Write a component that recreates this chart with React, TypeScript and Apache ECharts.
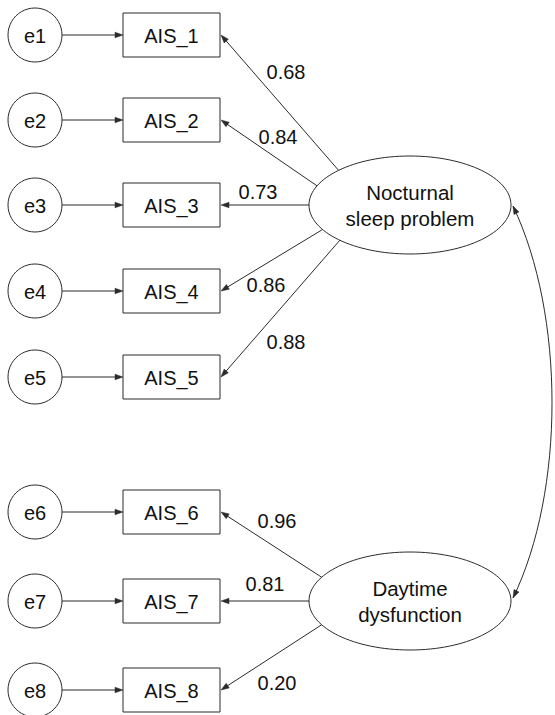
import React, { useEffect, useRef } from "react";
import * as echarts from "echarts";

// ---- data ----
const errorLabels = ["e1", "e2", "e3", "e4", "e5", "e6", "e7", "e8"];
const indicatorLabels = ["AIS_1", "AIS_2", "AIS_3", "AIS_4", "AIS_5", "AIS_6", "AIS_7", "AIS_8"];
const factorLabels = ["Nocturnal\nsleep problem", "Daytime\ndysfunction"];
const factorOfIndicator = [0, 0, 0, 0, 0, 1, 1, 1];
const loadings = [0.68, 0.84, 0.73, 0.86, 0.88, 0.96, 0.81, 0.2];

// ---- diagram layout (diagram units = px) ----
const rowY = [35, 120, 205, 291, 377, 512, 601, 690];
const factorY = [205, 601];
const anchorDeg = [-45, -23, 0, 30, 46, -29, 0, 29];
const loadingLabelXY = [
  [286, 72], [278, 137], [258, 192], [266, 285], [286, 342],
  [277, 521], [265, 584], [277, 683],
];

const W = 555, H = 715;
const ERR_X = 35, ERR_R = 27;
const BOX_X = 123, BOX_W = 97, BOX_H = 44;
const FAC_X = 410, FAC_RX = 101, FAC_RY = 49;
const FONT = "'Liberation Sans', Arial, sans-serif";
const LINE = "#2b2b2b";
const TXT = "#111";

function arrowHead(tip: number[], from: number[], len = 8, half = 2.8) {
  const dx = tip[0] - from[0], dy = tip[1] - from[1];
  const d = Math.sqrt(dx * dx + dy * dy) || 1;
  const ux = dx / d, uy = dy / d;
  const bx = tip[0] - ux * len, by = tip[1] - uy * len;
  return {
    type: "polygon",
    shape: { points: [[tip[0], tip[1]], [bx - uy * half, by + ux * half], [bx + uy * half, by - ux * half]] },
    style: { fill: LINE, stroke: LINE, lineWidth: 0.5 },
  };
}

export default function App() {
  const ref = useRef<HTMLDivElement>(null);
  useEffect(() => {
    document.body.style.margin = "0";
    const chart = echarts.init(ref.current!, null, { renderer: "svg" });

    const rowData = rowY.map((y, i) => [ERR_X, y, i]);
    const factorData = factorY.map((y, i) => [FAC_X, y, i]);
    const loadingData = loadings.map((v, i) => [v, i]);

    chart.setOption({
      animation: false,
      grid: { left: 0, right: 0, top: 0, bottom: 0 },
      xAxis: { type: "value", min: 0, max: W, show: false },
      yAxis: { type: "value", min: 0, max: H, inverse: true, show: false },
      series: [
        {
          type: "custom",
          coordinateSystem: "cartesian2d",
          silent: true,
          clip: false,
          data: rowData,
          renderItem: (params: any, api: any) => {
            const y = api.value(1);
            const i = api.value(2);
            const c = api.coord([ERR_X, y]);
            const r = api.size([ERR_R, 0])[0];
            const tl = api.coord([BOX_X, y - BOX_H / 2]);
            const br = api.coord([BOX_X + BOX_W, y + BOX_H / 2]);
            const bc = api.coord([BOX_X + BOX_W / 2, y]);
            const lineStart = [c[0] + r, c[1]];
            const lineEnd = [tl[0], c[1]];
            return {
              type: "group",
              children: [
                { type: "circle", shape: { cx: c[0], cy: c[1], r }, style: { fill: "#fff", stroke: LINE, lineWidth: 1 } },
                { type: "text", style: { x: c[0], y: c[1] + 1, text: errorLabels[i], fill: TXT, font: `20px ${FONT}`, align: "center", verticalAlign: "middle" } },
                { type: "line", shape: { x1: lineStart[0], y1: lineStart[1], x2: lineEnd[0] - 4, y2: lineEnd[1] }, style: { stroke: LINE, lineWidth: 1 } },
                arrowHead(lineEnd, lineStart),
                { type: "rect", shape: { x: tl[0], y: tl[1], width: br[0] - tl[0], height: br[1] - tl[1] }, style: { fill: "#fff", stroke: LINE, lineWidth: 1 } },
                { type: "text", style: { x: bc[0], y: bc[1] + 1, text: indicatorLabels[i], fill: TXT, font: `20px ${FONT}`, align: "center", verticalAlign: "middle" } },
              ],
            };
          },
        },
        {
          type: "custom",
          coordinateSystem: "cartesian2d",
          silent: true,
          clip: false,
          data: factorData,
          renderItem: (params: any, api: any) => {
            const i = api.value(2);
            const c = api.coord([api.value(0), api.value(1)]);
            const s = api.size([FAC_RX, FAC_RY]);
            return {
              type: "group",
              children: [
                { type: "ellipse", shape: { cx: c[0], cy: c[1], rx: s[0], ry: s[1] }, style: { fill: "#fff", stroke: LINE, lineWidth: 1 } },
                { type: "text", style: { x: c[0], y: c[1], text: factorLabels[i], fill: TXT, font: `20.5px ${FONT}`, lineHeight: 26, align: "center", verticalAlign: "middle" } },
              ],
            };
          },
        },
        {
          type: "custom",
          coordinateSystem: "cartesian2d",
          silent: true,
          clip: false,
          data: loadingData,
          renderItem: (params: any, api: any) => {
            const v = api.value(0);
            const i = api.value(1);
            const f = factorOfIndicator[i];
            const a = (anchorDeg[i] * Math.PI) / 180;
            const start = api.coord([FAC_X - FAC_RX * Math.cos(a), factorY[f] + FAC_RY * Math.sin(a)]);
            const end = api.coord([BOX_X + BOX_W + 1, rowY[i]]);
            const lp = api.coord(loadingLabelXY[i]);
            const dx = end[0] - start[0], dy = end[1] - start[1];
            const d = Math.sqrt(dx * dx + dy * dy);
            const lineEnd = [end[0] - (dx / d) * 4, end[1] - (dy / d) * 4];
            return {
              type: "group",
              children: [
                { type: "line", shape: { x1: start[0], y1: start[1], x2: lineEnd[0], y2: lineEnd[1] }, style: { stroke: LINE, lineWidth: 1 } },
                arrowHead(end, start),
                { type: "text", style: { x: lp[0], y: lp[1], text: v.toFixed(2), fill: TXT, font: `20px ${FONT}`, align: "center", verticalAlign: "middle" } },
              ],
            };
          },
        },
        {
          type: "custom",
          coordinateSystem: "cartesian2d",
          silent: true,
          clip: false,
          data: [[factorY[0], factorY[1]]],
          renderItem: (params: any, api: any) => {
            const p0 = api.coord([FAC_X + FAC_RX + 2, api.value(0) + 1]);
            const p3 = api.coord([FAC_X + FAC_RX + 2, api.value(1) - 3]);
            const c1 = api.coord([565, api.value(0) + 110]);
            const c2 = api.coord([565, api.value(1) - 110]);
            return {
              type: "group",
              children: [
                { type: "bezierCurve", shape: { x1: p0[0], y1: p0[1], cpx1: c1[0], cpy1: c1[1], cpx2: c2[0], cpy2: c2[1], x2: p3[0], y2: p3[1] }, style: { stroke: LINE, lineWidth: 1, fill: null } },
                arrowHead(p0, c1),
                arrowHead(p3, c2),
              ],
            };
          },
        },
      ],
    });
    return () => chart.dispose();
  }, []);
  return <div ref={ref} style={{ width: W, height: H }} />;
}
